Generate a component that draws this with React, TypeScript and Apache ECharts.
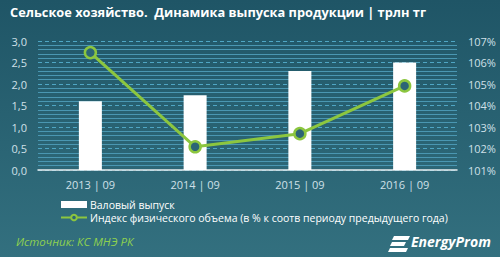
import React, { useEffect, useRef } from "react";
import * as echarts from "echarts";

const categories = ["2013 | 09", "2014 | 09", "2015 | 09", "2016 | 09"];
const grossOutput = [1.6, 1.74, 2.3, 2.5];
const volumeIndex = [106.46, 102.08, 102.69, 104.91];
const seriesNames = ["Валовый выпуск", "Индекс физического объема (в % к соотв периоду предыдущего года)"];
const titleText = "Сельское хозяйство.  Динамика выпуска продукции | трлн тг";
const sourceText = "Источник: КС МНЭ РК";
const logoText = "EnergyProm";

const FONT = "'Open Sans', sans-serif";
const GREEN = "#8cc63f";
const LABEL = "#cfe0e8";

export default function App() {
  const ref = useRef<HTMLDivElement>(null);
  useEffect(() => {
    const chart = echarts.init(ref.current!, undefined, { renderer: "svg" });
    chart.setOption({
      animation: false,
      backgroundColor: new echarts.graphic.LinearGradient(0, 0, 0, 1, [
        { offset: 0, color: "#1f5566" },
        { offset: 1, color: "#33707f" },
      ]),
      textStyle: { fontFamily: FONT },
      grid: { left: 38, right: 43, top: 41, bottom: 87 },
      legend: {
        orient: "vertical",
        left: 60,
        top: 198,
        padding: 0,
        itemWidth: 26,
        itemHeight: 7,
        itemGap: 0,
        textStyle: { color: "#ffffff", fontSize: 10.5, fontFamily: FONT, lineHeight: 13, padding: [0, 0, 0, -2] },
        data: [
          { name: seriesNames[0], icon: "rect" },
          { name: seriesNames[1] },
        ],
      },
      xAxis: {
        type: "category",
        data: categories,
        axisLine: { lineStyle: { color: "#e8eef0", width: 1.5 } },
        axisTick: { show: false },
        axisLabel: { color: LABEL, fontSize: 11, margin: 9 },
      },
      yAxis: [
        {
          type: "value",
          min: 0,
          max: 3,
          interval: 0.5,
          axisLine: { show: false },
          axisTick: { show: false },
          axisLabel: {
            color: LABEL,
            fontSize: 11,
            margin: 11,
            formatter: (v: number) => v.toFixed(1).replace(".", ","),
          },
          splitLine: { lineStyle: { color: "#4fa6c4", type: [4, 3], width: 1 } },
          minorTick: { show: false, splitNumber: 5 },
          minorSplitLine: { show: true, lineStyle: { color: "#4a97b2", width: 1 } },
        },
        {
          type: "value",
          min: 101,
          max: 107,
          interval: 1,
          axisLine: { show: false },
          axisTick: { show: false },
          splitLine: { show: false },
          axisLabel: { color: LABEL, fontSize: 11, margin: 11, formatter: "{value}%" },
        },
      ],
      series: [
        {
          name: seriesNames[0],
          type: "bar",
          data: grossOutput,
          barWidth: 23,
          itemStyle: { color: "#ffffff" },
        },
        {
          name: seriesNames[1],
          type: "line",
          yAxisIndex: 1,
          data: volumeIndex,
          symbol: "circle",
          symbolSize: 11,
          lineStyle: { color: GREEN, width: 3 },
          itemStyle: { color: "#2c6575", borderColor: GREEN, borderWidth: 2.5 },
        },
      ],
      graphic: [
        {
          type: "text",
          left: 10,
          top: 5,
          style: { text: titleText, fill: "#ffffff", font: `bold 12.8px ${FONT}` },
        },
        {
          type: "text",
          left: 16,
          top: 235,
          style: { text: sourceText, fill: "#8fd14f", font: `italic 11.5px ${FONT}` },
        },
        {
          type: "group",
          left: 388,
          top: 234,
          children: [
            { type: "polygon", shape: { points: [[6, 0], [22, 0], [20, 4], [4, 4]] }, style: { fill: "#ffffff" } },
            { type: "polygon", shape: { points: [[4, 6], [18, 6], [16, 10], [2, 10]] }, style: { fill: "#ffffff" } },
            { type: "polygon", shape: { points: [[2, 12], [20, 12], [18, 16], [0, 16]] }, style: { fill: "#ffffff" } },
            {
              type: "text",
              x: 23,
              y: -2,
              style: { text: logoText, fill: "#ffffff", font: `italic bold 14px ${FONT}` },
            },
          ],
        },
      ],
    });
    return () => chart.dispose();
  }, []);
  return <div ref={ref} style={{ width: 500, height: 257, position: "absolute", left: 0, top: 0 }} />;
}
